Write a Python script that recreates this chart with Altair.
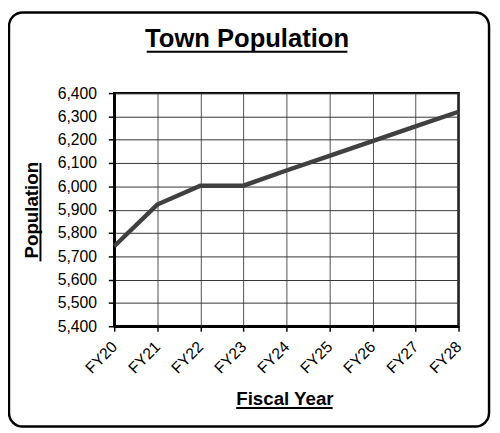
import altair as alt
import pandas as pd

years = ["FY20", "FY21", "FY22", "FY23", "FY24", "FY25", "FY26", "FY27", "FY28"]
population = [5743, 5922, 6003, 6003, 6068, 6131, 6194, 6257, 6320]
y_ticks = [5400, 5500, 5600, 5700, 5800, 5900, 6000, 6100, 6200, 6300, 6400]
chart_title = "Town Population"
x_title = "Fiscal Year"
y_title = "Population"

F = "Liberation Sans"

df = pd.DataFrame({"year": years, "population": population})
one = pd.DataFrame({"k": [0]})

line = alt.Chart(df).mark_line(color="#404040", strokeWidth=4.5).encode(
    x=alt.X(
        "year:O",
        sort=years,
        scale=alt.Scale(type="point", padding=0),
        axis=alt.Axis(
            title=x_title,
            grid=True,
            gridColor="#505050",
            gridWidth=1,
            labelAngle=-45,
            labelAlign="right",
            labelBaseline="middle",
            labelPadding=13,
            tickSize=5,
            titleX=173,
            titleY=80,
            titleAlign="center",
            titleBaseline="alphabetic",
        ),
    ),
    y=alt.Y(
        "population:Q",
        scale=alt.Scale(domain=[5400, 6400], nice=False, zero=False),
        axis=alt.Axis(
            title=y_title,
            values=y_ticks,
            format=",.0f",
            grid=True,
            gridColor="#333333",
            gridWidth=1,
            tickSize=6,
            labelPadding=12,
            titleAngle=270,
            titleX=-78,
            titleY=118.5,
            titleAlign="center",
            titleBaseline="alphabetic",
        ),
    ),
)

border = alt.Chart(one).mark_rect(
    fillOpacity=0, stroke="black", strokeWidth=2.5, cornerRadius=14
).encode(x=alt.value(-107), x2=alt.value(381), y=alt.value(-82), y2=alt.value(339))

title_text = alt.Chart(one).mark_text(
    text=chart_title, font=F, fontSize=26, fontWeight="bold",
    align="center", baseline="alphabetic", color="black"
).encode(x=alt.value(135), y=alt.value(-47))

title_ul = alt.Chart(one).mark_rule(color="black", strokeWidth=2).encode(
    x=alt.value(33), x2=alt.value(237), y=alt.value(-42))
x_ul = alt.Chart(one).mark_rule(color="black", strokeWidth=2).encode(
    x=alt.value(124), x2=alt.value(222), y=alt.value(320))
y_ul = alt.Chart(one).mark_rule(color="black", strokeWidth=2).encode(
    x=alt.value(-75), y=alt.value(71), y2=alt.value(171))

chart = alt.layer(line, border, title_text, title_ul, x_ul, y_ul).properties(
    width=350,
    height=237,
    autosize=alt.AutoSizeParams(type="none"),
    padding={"left": 108, "top": 83, "right": 34, "bottom": 105},
).configure_view(
    stroke="black", strokeWidth=2.5
).configure_axis(
    domainColor="black", domainWidth=2.5,
    tickColor="black", tickWidth=1.5,
    labelFont=F, labelFontSize=16, labelColor="black",
    titleFont=F, titleFontSize=19, titleFontWeight="bold", titleColor="black",
)

chart.save("out.html", embed_options={"renderer": "svg", "actions": False})
